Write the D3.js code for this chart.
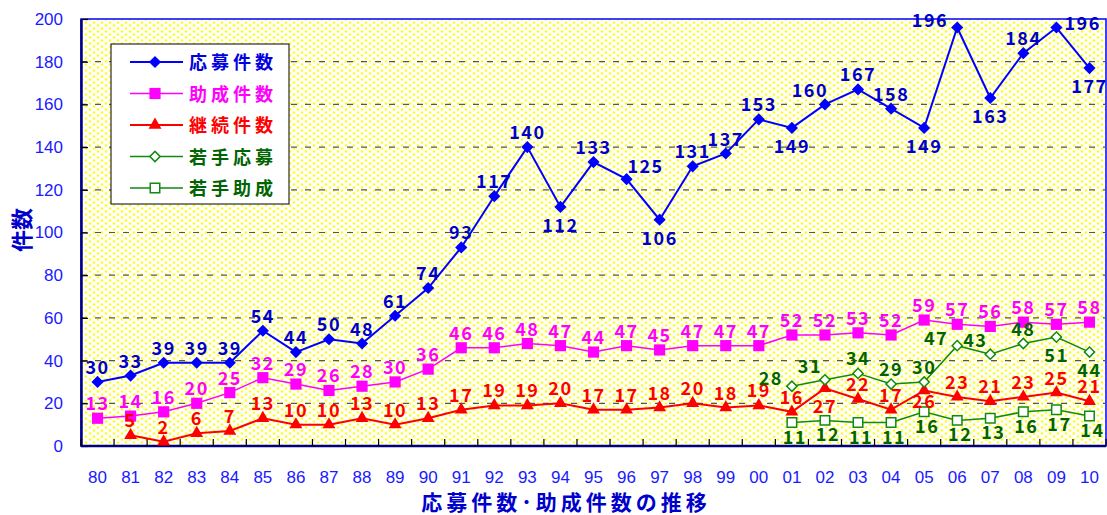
<!DOCTYPE html>
<html>
<head>
<meta charset="utf-8">
<script src="https://cdn.jsdelivr.net/npm/d3@7/dist/d3.min.js"></script>
<style>
  body { margin: 0; background: #fff; }
  svg { display: block; }
</style>
</head>
<body>
<div id="chart-area"></div>
<script>
// years on the x axis
var years = ["80","81","82","83","84","85","86","87","88","89","90","91","92","93","94","95",
             "96","97","98","99","00","01","02","03","04","05","06","07","08","09","10"];

// 応募件数
var applyCount = [30,33,39,39,39,54,44,50,48,61,74,93,117,140,112,133,125,106,131,137,153,149,160,167,158,149,196,163,184,196,177];
// 助成件数
var grantCount = [13,14,16,20,25,32,29,26,28,30,36,46,46,48,47,44,47,45,47,47,47,52,52,53,52,59,57,56,58,57,58];
// 継続件数
var contCount = [null,5,2,6,7,13,10,10,13,10,13,17,19,19,20,17,17,18,20,18,19,16,27,22,17,26,23,21,23,25,21];
// 若手応募 (from 01)
var youngApply = [null,null,null,null,null,null,null,null,null,null,null,null,null,null,null,null,
                  null,null,null,null,null,28,31,34,29,30,47,43,48,51,44];
// 若手助成 (from 01)
var youngGrant = [null,null,null,null,null,null,null,null,null,null,null,null,null,null,null,null,
                  null,null,null,null,null,11,12,11,11,16,12,13,16,17,14];

var yTicks = [0,20,40,60,80,100,120,140,160,180,200];

// where each value label sits around its marker
var applyPos = ["a","a","a","a","a","a","a","a","a","a","a","a","a","a","b","a","ar","b","a","a","a","b","al","a","a","b","l","b","a","r","b"];
var contPos  = years.map(function(y){ return y == "02" ? "b" : (y == "05" ? "bn" : "a"); });
var yApplyPos = {"01":"l","02":"al","03":"a","04":"a","05":"a","06":"l","07":"al","08":"a","09":"b","10":"b"};

var labelOffset = {
    a:  { dx: 0,   dy: -8, anchor: "middle" },
    al: { dx: -15, dy: -7, anchor: "middle" },
    ar: { dx: 19,  dy: -6, anchor: "middle" },
    b:  { dx: 0,   dy: 25, anchor: "middle" },
    bn: { dx: 0,   dy: 18, anchor: "middle" },
    bs: { dx: 3,   dy: 21, anchor: "middle" },
    l:  { dx: -9,  dy: -1, anchor: "end" },
    r:  { dx: 8,   dy: 2,  anchor: "start" }
};

var series = [
    { name: "応募件数", values: applyCount, line: "#0000ff", text: "#0000cc", marker: "diamond", hollow: false, width: 2,
      pos: function(i){ return applyPos[i]; } },
    { name: "助成件数", values: grantCount, line: "#ff00ff", text: "#ff00ff", marker: "square", hollow: false, width: 1.5,
      pos: function(i){ return "a"; } },
    { name: "継続件数", values: contCount, line: "#ff0000", text: "#ff0000", marker: "triangle", hollow: false, width: 2,
      pos: function(i){ return contPos[i]; } },
    { name: "若手応募", values: youngApply, line: "#108a10", text: "#006400", marker: "diamond", hollow: true, width: 1.5,
      pos: function(i){ return yApplyPos[years[i]] || "a"; } },
    { name: "若手助成", values: youngGrant, line: "#108a10", text: "#006400", marker: "square", hollow: true, width: 1.5,
      pos: function(i){ return "bs"; } }
];

var W = 1107, H = 515;
var plotL = 81, plotR = 1106, plotT = 19, plotB = 446;

var svg = d3.select("#chart-area")
    .append("svg")
        .attr("width", W)
        .attr("height", H);

// dotted yellow background
var defs = svg.append("defs");
var pat = defs.append("pattern")
    .attr("id", "dots")
    .attr("patternUnits", "userSpaceOnUse")
    .attr("width", 8)
    .attr("height", 6);
pat.append("rect").attr("width", 8).attr("height", 6).attr("fill", "#ffffff");
pat.append("circle").attr("cx", 2).attr("cy", 1.5).attr("r", 1.2).attr("fill", "#ffff00");
pat.append("circle").attr("cx", 6).attr("cy", 4.5).attr("r", 1.2).attr("fill", "#ffff00");

// Scales
var x = d3.scaleBand()
    .domain(years)
    .range([plotL, plotR])
    .padding(0);
var y = d3.scaleLinear()
    .domain([0, 200])
    .range([plotB, plotT]);

function cx(i) { return x(years[i]) + x.bandwidth() / 2; }

svg.append("rect")
    .attr("x", plotL).attr("y", plotT)
    .attr("width", plotR - plotL).attr("height", plotB - plotT)
    .attr("fill", "url(#dots)")
    .attr("stroke", "#0000ff")
    .attr("stroke-width", 1.5);

// grid lines
svg.append("g")
    .selectAll("line")
    .data(yTicks.filter(function(d){ return d > 0 && d < 200; }))
    .enter().append("line")
        .attr("x1", plotL).attr("x2", plotR)
        .attr("y1", function(d){ return y(d); })
        .attr("y2", function(d){ return y(d); })
        .attr("stroke", "#555")
        .attr("stroke-width", 1.2)
        .attr("stroke-dasharray", "6,8");

// Y Axis
var yAxisCall = d3.axisLeft(y)
    .tickValues(yTicks)
    .tickSizeInner(-7)
    .tickSizeOuter(0)
    .tickPadding(18);
var yAxis = svg.append("g")
    .attr("transform", "translate(" + plotL + ",0)")
    .call(yAxisCall);
yAxis.select(".domain").attr("stroke", "#000080").attr("stroke-width", 2.5);
yAxis.selectAll(".tick line").attr("stroke", "#000").attr("stroke-width", 1.2);
yAxis.selectAll(".tick text")
    .attr("fill", "#1a1aff")
    .attr("font-family", "Liberation Sans, Arial, sans-serif")
    .attr("font-size", "17px");

// X Axis: ticks between the categories, pointing up
var xAxis = svg.append("g");
xAxis.append("line")
    .attr("x1", plotL).attr("x2", plotR)
    .attr("y1", plotB).attr("y2", plotB)
    .attr("stroke", "#000080").attr("stroke-width", 2.5);
xAxis.selectAll("line.tk")
    .data(years.concat(["end"]))
    .enter().append("line")
        .attr("class", "tk")
        .attr("x1", function(d, i){ return plotL + i * x.bandwidth(); })
        .attr("x2", function(d, i){ return plotL + i * x.bandwidth(); })
        .attr("y1", plotB).attr("y2", plotB - 7)
        .attr("stroke", "#000").attr("stroke-width", 1.2);
xAxis.selectAll("text")
    .data(years)
    .enter().append("text")
        .attr("x", function(d, i){ return cx(i); })
        .attr("y", 483)
        .attr("text-anchor", "middle")
        .attr("fill", "#1a1aff")
        .attr("font-family", "Liberation Sans, Arial, sans-serif")
        .attr("font-size", "17px")
        .text(function(d){ return d; });

// Labels
svg.append("text")
    .attr("x", 566)
    .attr("y", 510)
    .attr("text-anchor", "middle")
    .attr("fill", "#0000cc")
    .attr("font-family", "Noto Sans CJK JP, sans-serif")
    .attr("font-weight", "bold")
    .attr("font-size", "21px")
    .attr("letter-spacing", "4px")
    .text("応募件数･助成件数の推移");

svg.append("text")
    .attr("transform", "translate(30,230) rotate(-90)")
    .attr("text-anchor", "middle")
    .attr("fill", "#0000cc")
    .attr("font-family", "Noto Sans CJK JP, sans-serif")
    .attr("font-weight", "bold")
    .attr("font-size", "22px")
    .text("件数");

// markers
function markerPath(type, hollow) {
    if (type == "diamond") {
        return d3.symbol().type(d3.symbolSquare).size(hollow ? 52 : 74)();
    }
    if (type == "square") {
        return d3.symbol().type(d3.symbolSquare).size(hollow ? 90 : 125)();
    }
    return d3.symbol().type(d3.symbolTriangle).size(72)();
}

function drawMarker(g, s, px, py) {
    var m = g.append("path")
        .attr("d", markerPath(s.marker, s.hollow))
        .attr("transform", "translate(" + px + "," + py + ")" + (s.marker == "diamond" ? " rotate(45)" : ""));
    if (s.hollow) {
        m.attr("fill", "#fff").attr("stroke", s.line).attr("stroke-width", 1.5);
    } else {
        m.attr("fill", s.line);
    }
}

var line = d3.line()
    .defined(function(d){ return d != null; })
    .x(function(d, i){ return cx(i); })
    .y(function(d){ return y(d); });

var plot = svg.append("g");
series.forEach(function(s){
    plot.append("path")
        .datum(s.values)
        .attr("fill", "none")
        .attr("stroke", s.line)
        .attr("stroke-width", s.width)
        .attr("d", line);
    s.values.forEach(function(v, i){
        if (v == null) return;
        drawMarker(plot, s, cx(i), y(v));
    });
});

// value labels on top
var labels = svg.append("g");
series.forEach(function(s){
    s.values.forEach(function(v, i){
        if (v == null) return;
        var o = labelOffset[s.pos(i)];
        labels.append("text")
            .attr("x", cx(i) + o.dx)
            .attr("y", y(v) + o.dy)
            .attr("text-anchor", o.anchor)
            .attr("fill", s.text)
            .attr("font-family", "Noto Sans CJK JP, sans-serif")
            .attr("font-weight", "bold")
            .attr("font-size", "18px")
            .attr("letter-spacing", "1.5px")
            .text(v);
    });
});

// Legend
var legend = svg.append("g")
    .attr("transform", "translate(111,44)");
legend.append("rect")
    .attr("width", 178)
    .attr("height", 160)
    .attr("fill", "#fff")
    .attr("stroke", "#000")
    .attr("stroke-width", 1);

series.forEach(function(s, i){
    var row = legend.append("g")
        .attr("transform", "translate(0," + (18 + i * 31.5) + ")");
    row.append("line")
        .attr("x1", 19).attr("x2", 72)
        .attr("stroke", s.line)
        .attr("stroke-width", s.width);
    drawMarker(row, s, 44, 0);
    row.append("text")
        .attr("x", 78)
        .attr("y", 7)
        .attr("fill", s.text == "#0000cc" ? "#0000e0" : s.text)
        .attr("font-family", "Noto Sans CJK JP, sans-serif")
        .attr("font-weight", "bold")
        .attr("font-size", "18px")
        .attr("letter-spacing", "4px")
        .text(s.name);
});
</script>
</body>
</html>
